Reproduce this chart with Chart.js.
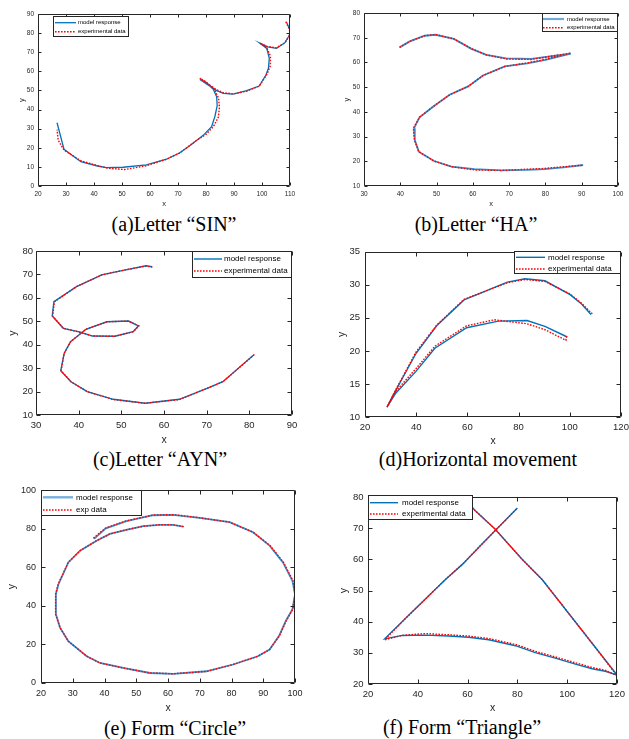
<!DOCTYPE html>
<html><head><meta charset="utf-8">
<script src="https://cdn.jsdelivr.net/npm/chart.js@4.4.1/dist/chart.umd.min.js"></script>
<style>
html,body{margin:0;padding:0;background:#fff;width:629px;height:739px;overflow:hidden;position:relative}
canvas{position:absolute}
.cap{position:absolute;font-family:"Liberation Serif","Times New Roman",serif;font-size:20px;color:#000;white-space:nowrap;transform:translate(-50%,-50%);line-height:1}
</style></head><body>
<div class="cap" style="left:174px;top:224px">(a)Letter “SIN”</div>
<div class="cap" style="left:476px;top:224px">(b)Letter “HA”</div>
<div class="cap" style="left:160px;top:459px">(c)Letter “AYN”</div>
<div class="cap" style="left:478px;top:459px">(d)Horizontal movement</div>
<div class="cap" style="left:175px;top:728px">(e) Form “Circle”</div>
<div class="cap" style="left:462px;top:727px">(f) Form “Triangle”</div>
<script>
// ---------- (a) Letter "SIN" ----------
const aModelX = [108.8,110,109.8,108.2,105.2,102,99.3,101.7,102.6,102.3,101.4,99,94.5,89.7,86.2,83.8,77.8,80,82.6,83.8,84,83.2,82,79,75,70.7,65.9,58.7,50.4,44.4,40.9,35.3,29.3,26.8];
const aModelY = [85.5,81.6,79,75,72,72.8,74.7,72,66.8,61.6,58.1,52.3,49.9,48.1,48.5,49.9,55.8,54.2,50.6,46.7,42,36.5,31,26.5,22,17.4,14,11,9.8,9.6,10.6,12.7,19.2,33.1];
const aExpX = [108.5,109.8,110,108.2,105.2,101.8,99.2,101.7,103,103,101.8,99,94.5,89.7,86.2,83.6,77.8,80.2,83,84.5,84.8,84.4,82.6,80,76.6,70.7,65.9,58.7,51,45,40.9,35.3,29.3,27.2,26.8];
const aExpY = [86,82,79,75,72.3,73,74.8,72.3,68,63,58.5,52.3,49.6,48.2,48.8,50.5,56.4,54.3,50.5,46,41,36,31,27,23.8,17.4,14,10.6,8.6,9.3,10.8,13.2,18.8,24,29.5];
const aXTicks = [20,30,40,50,60,70,80,90,100,110];
const aYTicks = [0,10,20,30,40,50,60,70,80,90];

// ---------- (b) Letter "HA" ----------
const bModelX = [39.8,42.6,46.7,49.7,54.8,59.6,63.7,69.2,76.1,87,80,75,68.8,62.8,58.7,53.6,49.3,45.3,43.8,44,45.1,49.3,54.1,60.5,67.8,75,79.8,85,90.4];
const bModelY = [66.1,68.5,70.8,71.2,69.5,65.5,63.1,61.6,61.4,63.6,61,59.6,58.4,54.7,50.3,46.9,42.4,37.8,33.4,28.6,23.9,20.1,17.8,16.8,16.3,16.5,16.8,17.5,18.5];
const bExpX = [39.8,42.6,46.7,49.7,54.8,59.6,63.7,69.2,76.1,87,80,75,68.8,62.8,58.7,53.6,49.3,45.3,43.6,43.9,45.1,49.3,54.1,60.5,67.8,75,79.8,85,90.4];
const bExpY = [66.1,68.5,70.8,71.3,69.5,65.6,63.1,61.4,61.2,63.8,61.2,59.8,58.4,54.7,50.3,46.9,42.4,37.8,33.4,28.6,23.9,20.1,17.8,16.5,16.3,16.8,17.1,17.8,18.4];
const bXTicks = [30,40,50,60,70,80,90,100];
const bYTicks = [10,20,30,40,50,60,70,80];

// ---------- (c) Letter "AYN" ----------
const cModelX = [57.2,55.8,50.1,45.4,39.5,34.2,33.8,36.4,39.9,43.3,48.5,52.8,54,51.7,46.6,41.7,38.1,36.6,35.8,38.2,42,48.1,55.6,63.6,70.1,73.8,81];
const cModelY = [73.3,73.7,71.6,69.8,64.8,58.4,52.3,47,45.6,43.7,43.6,45.6,48,50.1,49.8,46.6,41.3,36.3,28.9,24.2,20,16.7,15,16.7,21.4,24.2,35.6];
const cExpX = [57.3,55.8,50.1,45.4,39.5,34.3,33.9,36.4,39.9,43.3,48.5,52.8,54.1,51.7,46.6,41.7,38.1,36.6,35.9,38.2,42,48.1,55.6,63.6,70.1,73.8,81.2];
const cExpY = [73.1,73.6,71.6,69.8,64.8,58.3,52.3,47,45.5,43.7,43.6,45.6,48,50.1,49.8,46.6,41.3,36.3,28.9,24.2,20,16.6,15,16.6,21.4,24.2,35.8];
const cXTicks = [30,40,50,60,70,80,90];
const cYTicks = [10,20,30,40,50,60,70,80];

// ---------- (d) Horizontal movement ----------
const dModelX = [108.3,104.6,100.1,90.3,82.5,75.6,58.7,48,39.9,31.7,28.6,32,39.9,47.3,59.7,72.1,83.3,90.3,99];
const dModelY = [25.5,27.1,28.5,30.6,30.9,30.4,27.7,23.8,19.6,13.8,11.5,13.6,16.9,20.4,23.5,24.5,24.6,23.7,22.1];
const dExpX = [108.8,104.6,100.1,90.3,82.5,75.6,58.7,48,39.9,31.7,28.6,32,39.9,47.3,59.7,70.5,83.3,90.3,98.5,98.8];
const dExpY = [25.6,27.2,28.6,30.5,30.8,30.3,27.8,23.9,19.8,13.9,11.5,13.9,17.3,20.7,23.8,24.7,24.1,23.2,21.6,22.3];
const dXTicks = [20,40,60,80,100,120];
const dYTicks = [10,15,20,25,30,35];

// ---------- (e) Form "Circle" ----------
const eModelX = [36.7,40.4,46.9,55.3,61.6,70,79.4,86.8,92,96.2,99.2,100,99.2,97.1,95,92,88.3,80.5,72.1,61.6,54.3,45.9,38.6,34.4,28.6,26,24.7,24.7,25.5,28.6,32.3,37.5,41.7,46.9,52.2,57.4,61.6,64.8];
const eModelY = [74.8,80.3,84,87.1,87.3,85.7,83.5,78.3,71.3,62.6,53,46,38.3,32.2,24.5,17.4,13.9,9.6,6.1,4.7,5.2,7.8,10.4,13.9,21.7,28.7,35.7,46.1,51.3,62.6,68.7,73.9,77.4,79.5,81.4,82.1,82.1,81.2];
const eExpX = [36.5,40.2,46.9,55.3,61.6,70,79.4,86.8,92.2,96.4,99.4,100,99.3,97.2,95.1,92,88.3,80.5,72.1,61.6,54.3,45.9,38.6,34.4,28.6,26,24.6,24.6,25.4,28.6,32.3,37.5,41.7,46.9,52.2,57.4,61.6,65];
const eExpY = [75.2,80.3,84.2,87.2,87.4,85.8,83.5,78.3,71.3,62.6,53,46,38.3,32.2,24.5,17.4,13.9,9.6,6,4.8,5.2,7.8,10.4,13.9,21.7,28.7,35.7,46.1,51.3,62.6,68.7,73.9,77.4,79.6,81.4,82.2,82.1,81.2];
const eXTicks = [20,30,40,50,60,70,80,90,100];
const eYTicks = [0,20,40,60,80,100];

// ---------- (f) Form "Triangle" ----------
const fModelX = [57,63,71,81.6,90,100,110,120,115.3,110,103.3,95.2,87.2,79.2,68.5,60.4,52.4,43,33.7,26.7,35,45,51,58,65,72,80];
const fModelY = [81,75.7,69.8,60.3,53.5,43.3,33.1,22.9,24.1,24.9,26.4,28.3,30.1,32.3,34.2,35,35.4,35.7,35.6,34.5,41,48.8,53.5,58.5,64.3,70,76.5];
const fExpX = [57,63,71,81.6,90,100,110,120,115.3,110,103.3,95.2,87.2,79.2,68.5,60.4,52.4,43,33.7,26.7,35,45,51,58,65,72,80];
const fExpY = [81,75.7,69.8,60.3,53.5,43.3,33.1,22.7,24.4,25.3,26.8,28.7,30.5,32.7,34.6,35.4,35.8,36.2,35.6,34.2,41,48.8,53.5,58.5,64.3,70,76.5];
const fXTicks = [20,40,60,80,100,120];
const fYTicks = [20,30,40,50,60,70,80];

const BLUE = '#0072BD', RED = '#FF0000', INK = '#262626', FONT = '"Liberation Sans", Arial, sans-serif';

const panels = [
  {id:'a', L:38, T:14, R:290, B:186, yTitleX:22, xTitleY:204, tickFont:6.5, titleFont:7.5, padX:4, padY:4, tl:3,
   xr:[20,110], yr:[0,90], xt:aXTicks, yt:aYTicks, mx:aModelX, my:aModelY, ex:aExpX, ey:aExpY,
   labels:['model response','experimental data'], blue:BLUE, bw:1.3, legBlue:BLUE, legBw:1.3,
   leg:{x1:53, y1:16, x2:129, y2:37, rows:[22.7,31.7], l1:55, l2:76, tx:78, font:6}},
  {id:'b', L:364, T:13, R:618, B:186, yTitleX:347, xTitleY:204, tickFont:6.5, titleFont:7.5, padX:4, padY:4, tl:3,
   xr:[30,100], yr:[10,80], xt:bXTicks, yt:bYTicks, mx:bModelX, my:bModelY, ex:bExpX, ey:bExpY,
   labels:['model response','experimental data'], blue:'#3a8fd0', bw:1.8, legBlue:'#6fa9da', legBw:2.2,
   leg:{x1:542, y1:13, x2:618, y2:32, rows:[19,27.7], l1:543, l2:564, tx:567, font:6}},
  {id:'c', L:36, T:251, R:292, B:415, yTitleX:13, xTitleY:440, tickFont:9.5, titleFont:10.5, padX:5, padY:3, tl:4,
   xr:[30,90], yr:[10,80], xt:cXTicks, yt:cYTicks, mx:cModelX, my:cModelY, ex:cExpX, ey:cExpY,
   labels:['model response','experimental data'], blue:BLUE, bw:1.4, legBlue:BLUE, legBw:1.4,
   leg:{x1:192, y1:251, x2:292, y2:278, rows:[259,271], l1:194, l2:222, tx:224, font:8}},
  {id:'d', L:365, T:251, R:621, B:417, yTitleX:342, xTitleY:441, tickFont:9.5, titleFont:10.5, padX:5, padY:5, tl:4,
   xr:[20,120], yr:[10,35], xt:dXTicks, yt:dYTicks, mx:dModelX, my:dModelY, ex:dExpX, ey:dExpY,
   labels:['model response','experimental data'], blue:BLUE, bw:1.4, legBlue:BLUE, legBw:1.4,
   leg:{x1:514, y1:251, x2:621, y2:274, rows:[257.3,269], l1:516, l2:545, tx:548, font:8}},
  {id:'e', L:41, T:490, R:295, B:683, yTitleX:12, xTitleY:708, tickFont:9, titleFont:10.5, padX:5, padY:5, tl:4,
   xr:[20,100], yr:[0,100], xt:eXTicks, yt:eYTicks, mx:eModelX, my:eModelY, ex:eExpX, ey:eExpY,
   labels:['model response','exp data'], blue:'#3a8fd0', bw:1.8, legBlue:'#7ab0dc', legBw:2.4,
   leg:{x1:41, y1:490, x2:142, y2:516, rows:[497.3,510], l1:43, l2:73, tx:76, font:8}},
  {id:'f', L:368, T:497, R:617, B:684, yTitleX:344, xTitleY:708, tickFont:9.5, titleFont:10.5, padX:4.5, padY:4.5, tl:4,
   xr:[20,120], yr:[20,80], xt:fXTicks, yt:fYTicks, mx:fModelX, my:fModelY, ex:fExpX, ey:fExpY,
   labels:['model response','experimental data'], blue:BLUE, bw:1.4, legBlue:BLUE, legBw:1.4,
   leg:{x1:368, y1:495, x2:473, y2:520, rows:[502.7,514], l1:370, l2:398, tx:402, font:8}}
];

function zip(xs, ys){ return xs.map((x,i)=>({x:x, y:ys[i]})); }

panels.forEach(p => {
  const lh = p.titleFont * 1.2;
  const cLeft = Math.floor(p.yTitleX - lh/2 - 2);
  const cTop = p.T - 10;
  const cBottom = Math.ceil(p.xTitleY + lh/2 + 2);
  const cRight = p.R + 16;
  const W = cRight - cLeft, H = cBottom - cTop;
  const Wy = p.L - cLeft, Hx = cBottom - p.B;
  const padLeftTitle = p.yTitleX - lh/2 - cLeft;
  const padBottomTitle = cBottom - p.xTitleY - lh/2;

  const canvas = document.createElement('canvas');
  canvas.width = W; canvas.height = H;
  canvas.style.left = cLeft + 'px'; canvas.style.top = cTop + 'px';
  canvas.style.width = W + 'px'; canvas.style.height = H + 'px';
  document.body.appendChild(canvas);

  const framePlugin = {
    id: 'frame' + p.id,
    afterDatasetsDraw(chart) {
      const ctx = chart.ctx, a = chart.chartArea;
      const xs = chart.scales.x, ys = chart.scales.y;
      ctx.save();
      ctx.strokeStyle = INK; ctx.lineWidth = 1;
      ctx.beginPath();
      const l = Math.round(a.left) + 0.5, r = Math.round(a.right) - 0.5, t = Math.round(a.top) + 0.5, b = Math.round(a.bottom) - 0.5;
      ctx.rect(l, t, r - l, b - t);
      xs.ticks.forEach(tk => {
        const px = Math.round(xs.getPixelForValue(tk.value)) + 0.5;
        ctx.moveTo(px, b); ctx.lineTo(px, b - p.tl);
        ctx.moveTo(px, t); ctx.lineTo(px, t + p.tl);
      });
      ys.ticks.forEach(tk => {
        const py = Math.round(ys.getPixelForValue(tk.value)) + 0.5;
        ctx.moveTo(l, py); ctx.lineTo(l + p.tl, py);
        ctx.moveTo(r, py); ctx.lineTo(r - p.tl, py);
      });
      ctx.stroke();
      // legend
      const g = p.leg;
      const ox = cLeft, oy = cTop;
      ctx.fillStyle = '#fff';
      ctx.fillRect(g.x1 - ox, g.y1 - oy, g.x2 - g.x1, g.y2 - g.y1);
      ctx.strokeStyle = INK; ctx.lineWidth = 1;
      ctx.strokeRect(Math.round(g.x1 - ox) + 0.5, Math.round(g.y1 - oy) + 0.5, g.x2 - g.x1 - 1, g.y2 - g.y1 - 1);
      chart.data.datasets.forEach((d, i) => {
        const y = g.rows[i] - oy;
        ctx.beginPath();
        ctx.strokeStyle = i === 0 ? p.legBlue : d.borderColor;
        ctx.lineWidth = i === 0 ? p.legBw : d.borderWidth;
        ctx.setLineDash(d.borderDash || []);
        ctx.moveTo(g.l1 - ox, y); ctx.lineTo(g.l2 - ox, y);
        ctx.stroke();
        ctx.setLineDash([]);
        ctx.fillStyle = '#000';
        ctx.font = g.font + 'px ' + FONT;
        ctx.textBaseline = 'middle';
        ctx.textAlign = 'left';
        ctx.fillText(d.label, g.tx - ox, y);
      });
      ctx.restore();
    }
  };

  new Chart(canvas, {
    type: 'scatter',
    data: {
      datasets: [
        {label: p.labels[0], data: zip(p.mx, p.my), showLine: true, borderColor: p.blue, backgroundColor: p.blue,
         borderWidth: p.bw, pointRadius: 0, pointHoverRadius: 0, tension: 0, fill: false, order: 2},
        {label: p.labels[1], data: zip(p.ex, p.ey), showLine: true, borderColor: RED, backgroundColor: RED,
         borderWidth: 1.4, borderDash: [1.6, 1.4], pointRadius: 0, pointHoverRadius: 0, tension: 0, fill: false, order: 1}
      ]
    },
    options: {
      responsive: false, animation: false, events: [],
      layout: {padding: {top: 10, right: 16, left: 0, bottom: 0}},
      plugins: {legend: {display: false}, tooltip: {enabled: false}},
      scales: {
        x: {
          type: 'linear', position: 'bottom', min: p.xr[0], max: p.xr[1],
          grid: {display: false, drawTicks: false}, border: {display: false},
          afterBuildTicks: s => { s.ticks = p.xt.map(v => ({value: v})); },
          afterFit: s => { s.height = Hx; },
          ticks: {autoSkip: false, maxRotation: 0, padding: p.padX, color: INK, font: {family: FONT, size: p.tickFont}},
          title: {display: true, text: 'x', color: INK, font: {family: FONT, size: p.titleFont}, padding: {top: 0, bottom: padBottomTitle}}
        },
        y: {
          type: 'linear', position: 'left', min: p.yr[0], max: p.yr[1],
          grid: {display: false, drawTicks: false}, border: {display: false},
          afterBuildTicks: s => { s.ticks = p.yt.map(v => ({value: v})); },
          afterFit: s => { s.width = Wy; },
          ticks: {autoSkip: false, padding: p.padY, color: INK, font: {family: FONT, size: p.tickFont}},
          title: {display: true, text: 'y', color: INK, font: {family: FONT, size: p.titleFont}, padding: {top: padLeftTitle, bottom: 0}}
        }
      }
    },
    plugins: [framePlugin]
  });
});
</script>
</body></html>
